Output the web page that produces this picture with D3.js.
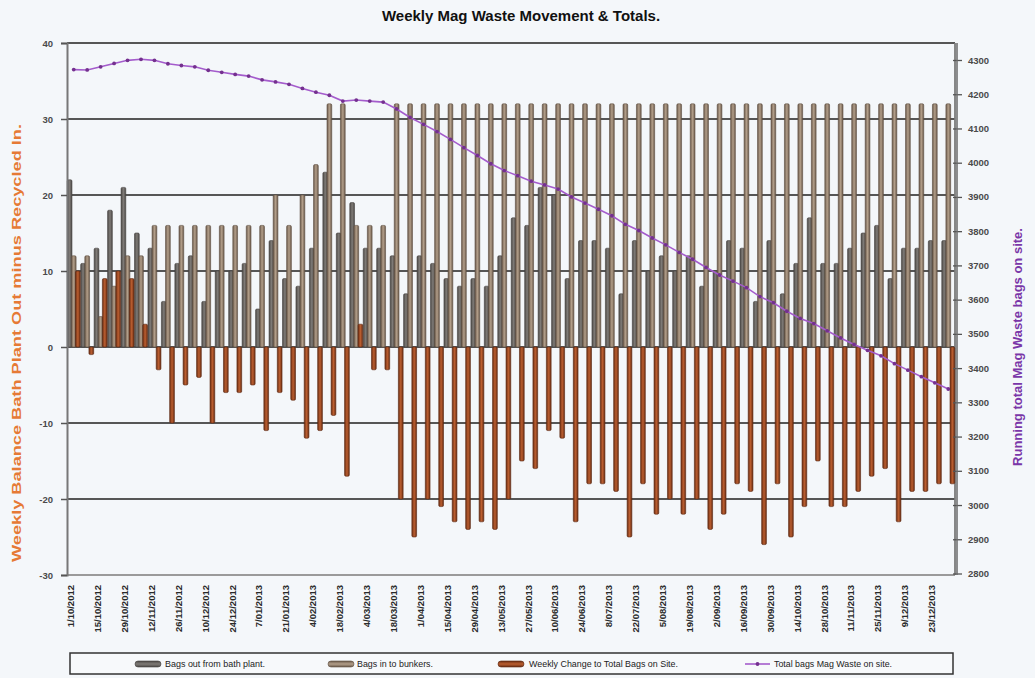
<!DOCTYPE html>
<html><head><meta charset="utf-8">
<script src="https://cdn.jsdelivr.net/npm/d3@7"></script>
<style>
body{margin:0;background:#f4f7fa;}
svg{display:block;font-family:"Liberation Sans",Arial,sans-serif;}
</style>
</head><body>
<svg id="c" width="1035" height="678"></svg>
<script>
const weeks = ["1/10/2012","8/10/2012","15/10/2012","22/10/2012","29/10/2012","5/11/2012","12/11/2012","19/11/2012","26/11/2012","3/12/2012",
"10/12/2012","17/12/2012","24/12/2012","31/12/2012","7/01/2013","14/01/2013","21/01/2013","28/01/2013","4/02/2013","11/02/2013",
"18/02/2013","25/02/2013","4/03/2013","11/03/2013","18/03/2013","25/03/2013","1/04/2013","8/04/2013","15/04/2013","22/04/2013",
"29/04/2013","6/05/2013","13/05/2013","20/05/2013","27/05/2013","3/06/2013","10/06/2013","17/06/2013","24/06/2013","1/07/2013",
"8/07/2013","15/07/2013","22/07/2013","29/07/2013","5/08/2013","12/08/2013","19/08/2013","26/08/2013","2/09/2013","9/09/2013",
"16/09/2013","23/09/2013","30/09/2013","7/10/2013","14/10/2013","21/10/2013","28/10/2013","4/11/2013","11/11/2013","18/11/2013",
"25/11/2013","2/12/2013","9/12/2013","16/12/2013","23/12/2013","30/12/2013"];

const bagsOut = [22,11,13,18,21,15,13,6,11,12, 6,10,10,11,5,14,9,8,13,23, 15,19,13,13,12,7,12,11,9,8,
  9,8,12,17,16,21,20,9,14,14, 13,7,14,10,12,10,12,8,10,14, 13,6,14,7,11,17,11,11,13,15, 16,9,13,13,14,14];
const bagsIn = [12,12,4,8,12,12,16,16,16,16, 16,16,16,16,16,20,16,20,24,32, 32,16,16,16,32,32,32,32,32,32,
  32,32,32,32,32,32,32,32,32,32, 32,32,32,32,32,32,32,32,32,32, 32,32,32,32,32,32,32,32,32,32, 32,32,32,32,32,32];
const weeklyChange = [10,-1,9,10,9,3,-3,-10,-5,-4, -10,-6,-6,-5,-11,-6,-7,-12,-11,-9, -17,3,-3,-3,-20,-25,-20,-21,-23,-24,
  -23,-24,-20,-15,-16,-11,-12,-23,-18,-18, -19,-25,-18,-22,-20,-22,-20,-24,-22,-18, -19,-26,-18,-25,-21,-15,-21,-21,-19,-17,
  -16,-23,-19,-19,-18,-18];
const totalOnSite = [4272,4271,4280,4290,4299,4302,4299,4289,4284,4280, 4270,4264,4258,4253,4242,4236,4229,4217,4206,4197,
  4180,4183,4180,4177,4157,4132,4112,4091,4068,4044, 4021,3997,3977,3962,3946,3935,3923,3900,3882,3864,
  3845,3820,3802,3780,3760,3738,3718,3694,3672,3654, 3635,3609,3591,3566,3545,3530,3509,3488,3469,3452,
  3436,3413,3394,3375,3357,3339];

const leftTicks = [-30,-20,-10,0,10,20,30,40];
const rightTicks = [2800,2900,3000,3100,3200,3300,3400,3500,3600,3700,3800,3900,4000,4100,4200,4300];
const seriesNames = ["Bags out from bath plant.","Bags in to bunkers.","Weekly Change to Total Bags on Site.","Total bags Mag Waste on site."];
const titleText = "Weekly Mag Waste Movement & Totals.";
const leftTitle = "Weekly Balance Bath Plant Out minus Recycled In.";
const rightTitle = "Running total Mag Waste bags on site.";

const svg = d3.select("#c");
const L = 67, R = 955, T = 43, B = 575;

const x = d3.scaleBand().domain(weeks).range([L, R]).paddingInner(0.08).paddingOuter(0.04);
const xs = d3.scaleBand().domain([0,1,2]).range([0, x.bandwidth()]);
const y = d3.scaleLinear().domain([-30, 40]).range([B, T]);
const y2 = d3.scaleLinear().domain([2800, 4300]).range([573.5, 60]);

// gradients
const defs = svg.append("defs");
const palettes = [
  {id:"gOut", edge:"#4c4946", mid:"#7f7b77"},
  {id:"gIn", edge:"#6a594a", mid:"#b39f8a"},
  {id:"gChg", edge:"#6b2e13", mid:"#bb5e30"}
];
palettes.forEach(p => {
  const g = defs.append("linearGradient").attr("id", p.id).attr("x1","0").attr("x2","1").attr("y1","0").attr("y2","0");
  g.append("stop").attr("offset","0%").attr("stop-color", p.edge);
  g.append("stop").attr("offset","50%").attr("stop-color", p.mid);
  g.append("stop").attr("offset","100%").attr("stop-color", p.edge);
});

// gridlines
svg.append("g").selectAll("line").data(leftTicks.filter(t => t > -30)).join("line")
  .attr("x1", L).attr("x2", R).attr("y1", d => y(d)).attr("y2", d => y(d))
  .attr("stroke", "#565656").attr("stroke-width", 1.8);
// bottom line
svg.append("line").attr("x1", L).attr("x2", R).attr("y1", B).attr("y2", B)
  .attr("stroke", "#9a9a9a").attr("stroke-width", 2);
// right border
svg.append("line").attr("x1", R).attr("x2", R).attr("y1", T).attr("y2", B)
  .attr("stroke", "#7a7a7a").attr("stroke-width", 1.8);

// bars
const series = [bagsOut, bagsIn, weeklyChange];
const fills = ["url(#gOut)", "url(#gIn)", "url(#gChg)"];
const strokes = ["#45423f", "#5e4f42", "#5a2610"];
const bw = xs.bandwidth() * 1.15;
series.forEach((vals, s) => {
  svg.append("g").selectAll("rect").data(vals).join("rect")
    .attr("x", (d, i) => x(weeks[i]) + xs(s) + xs.bandwidth()/2 - bw/2)
    .attr("width", bw)
    .attr("y", d => Math.min(y(d), y(0)))
    .attr("height", d => Math.abs(y(d) - y(0)))
    .attr("rx", 1.3)
    .attr("fill", fills[s])
    .attr("stroke", strokes[s]).attr("stroke-width", 0.6);
});

const plainFmt = d => String(d);

// left axis
const ax = svg.append("g").attr("transform", `translate(${L},0)`)
  .call(d3.axisLeft(y).tickValues(leftTicks).tickFormat(plainFmt).tickSize(6).tickPadding(8));
ax.select(".domain").attr("stroke", "#777").attr("stroke-width", 2);
ax.selectAll(".tick line").attr("stroke", "#555").attr("stroke-width", 1.5);
ax.selectAll(".tick text").attr("font-size", 9.5).attr("font-weight", "bold").attr("fill", "#4a4a4a")
  .attr("font-family", '"Liberation Sans",Arial,sans-serif');

// right axis
const ar = svg.append("g").attr("transform", `translate(${R + 2},0)`)
  .call(d3.axisRight(y2).tickValues(rightTicks).tickFormat(plainFmt).tickSize(5).tickPadding(6));
ar.select(".domain").remove();
ar.selectAll(".tick line").attr("x1", -4).attr("stroke", "#555").attr("stroke-width", 1.3);
ar.selectAll(".tick text").attr("font-size", 9.5).attr("font-weight", "bold").attr("fill", "#4a4a4a")
  .attr("font-family", '"Liberation Sans",Arial,sans-serif');
svg.append("line").attr("x1", R + 2).attr("x2", R + 2).attr("y1", T).attr("y2", B)
  .attr("stroke", "#6a6a6a").attr("stroke-width", 1.5);

// line series
const cx = (i) => x(weeks[i]) + x.bandwidth()/2;
const line = d3.line().x((d, i) => cx(i)).y(d => y2(d));
svg.append("path").datum(totalOnSite).attr("d", line)
  .attr("fill", "none").attr("stroke", "#a45ccc").attr("stroke-width", 1.6);
svg.append("g").selectAll("circle").data(totalOnSite).join("circle")
  .attr("cx", (d, i) => cx(i)).attr("cy", d => y2(d)).attr("r", 1.9).attr("fill", "#74308f");

// x labels
svg.append("g").selectAll("text").data(weeks.filter((w, i) => i % 2 === 0)).join("text")
  .attr("transform", d => `translate(${x(d) + x.bandwidth()/2 - 3},585) rotate(-90)`)
  .attr("dy", "0.35em")
  .attr("text-anchor", "end")
  .attr("font-size", 9.5).attr("font-weight", "bold").attr("fill", "#2a2a2a")
  .text(d => d);

// title
svg.append("text").attr("x", 521).attr("y", 21).attr("text-anchor", "middle")
  .attr("font-size", 15).attr("font-weight", "bold").attr("fill", "#111").text(titleText);

// axis titles
svg.append("text").attr("transform", "translate(21,343) rotate(-90)").attr("text-anchor", "middle")
  .attr("font-size", 13).attr("font-weight", "bold").attr("fill", "#e67a35")
  .attr("textLength", 438).attr("lengthAdjust", "spacingAndGlyphs").text(leftTitle);
svg.append("text").attr("transform", "translate(1022,347) rotate(-90)").attr("text-anchor", "middle")
  .attr("font-size", 13).attr("font-weight", "bold").attr("fill", "#7a36a8").text(rightTitle);

// legend
const lg = svg.append("g");
lg.append("rect").attr("x", 70).attr("y", 653).attr("width", 883).attr("height", 21)
  .attr("fill", "#f7f9fb").attr("stroke", "#333").attr("stroke-width", 1.5);
const legendItems = [
  {sx:135, tx:165, len:100, fill:"url(#gOut)", stroke:strokes[0]},
  {sx:328, tx:357, len:76, fill:"url(#gIn)", stroke:strokes[1]},
  {sx:498, tx:529, len:149, fill:"url(#gChg)", stroke:strokes[2]},
  {sx:745, tx:774, len:118, line:true}
];
legendItems.forEach((it, k) => {
  if (it.line) {
    lg.append("line").attr("x1", it.sx).attr("x2", it.sx + 25).attr("y1", 664).attr("y2", 664)
      .attr("stroke", "#a45ccc").attr("stroke-width", 1.6);
    lg.append("circle").attr("cx", it.sx + 12.5).attr("cy", 664).attr("r", 1.9).attr("fill", "#74308f");
  } else {
    const g2 = defs.append("linearGradient").attr("id", "lgv" + k).attr("x1","0").attr("x2","0").attr("y1","0").attr("y2","1");
    const p = palettes[k];
    g2.append("stop").attr("offset","0%").attr("stop-color", p.edge);
    g2.append("stop").attr("offset","50%").attr("stop-color", p.mid);
    g2.append("stop").attr("offset","100%").attr("stop-color", p.edge);
    lg.append("rect").attr("x", it.sx).attr("y", 661).attr("width", 26).attr("height", 6).attr("rx", 3)
      .attr("fill", "url(#lgv" + k + ")").attr("stroke", it.stroke).attr("stroke-width", 0.6);
  }
  lg.append("text").attr("x", it.tx).attr("y", 667).attr("font-size", 9).attr("fill", "#222")
    .attr("textLength", it.len).attr("lengthAdjust", "spacingAndGlyphs").text(seriesNames[k]);
});
</script>
</body></html>
